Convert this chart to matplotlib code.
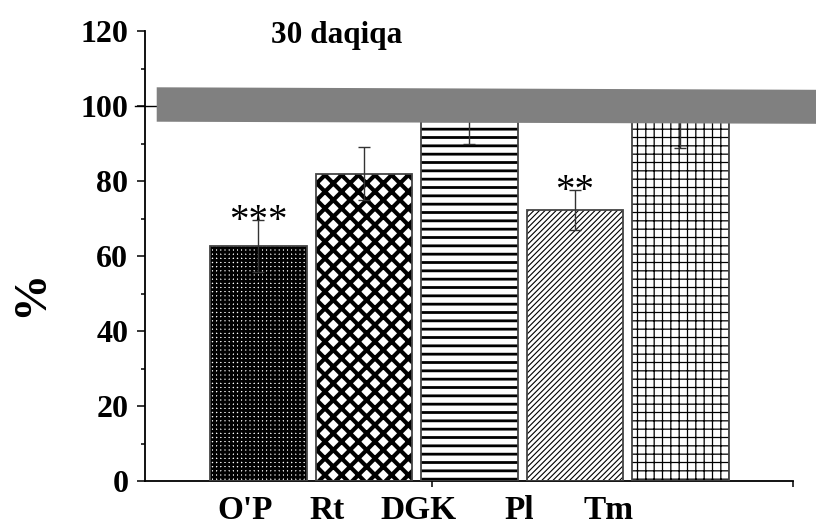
import matplotlib
matplotlib.use("Agg")
import matplotlib.pyplot as plt
from matplotlib.patches import Polygon
import numpy as np

# ---- data ----
categories = ["O'P", "Rt", "DGK", "Pl", "Tm"]
values = [62.7, 82.0, 96.0, 72.3, 96.0]
errors = [7.0, 7.0, 6.0, 5.4, 7.3]
stars = ["***", "", "", "**", ""]
hatches = ["++++", "xx", "--", "//////", "++"]
hatch_lws = [2.0, 3.0, 2.0, 0.8, 0.9]
label_pos = [-0.126, 0.651, 1.514, 2.471, 3.324]
yticks = [0, 20, 40, 60, 80, 100, 120]
title = "30 daqiqa"
ylabel = "%"

serif = ["Liberation Serif", "DejaVu Serif"]
plt.rcParams["font.family"] = serif

fig = plt.figure(figsize=(8.16, 5.21), dpi=100)
ax = fig.add_axes([145/816, 40/521, (793-145)/816, 450/521])

x = np.arange(len(categories))
width = 0.915
for i in range(len(categories)):
    with plt.rc_context({"hatch.linewidth": hatch_lws[i]}):
        b = ax.bar(x[i], values[i], width, color="white", edgecolor="black",
                   hatch=hatches[i], linewidth=0, zorder=2)
    for p in b:
        try:
            p.set_hatch_linewidth(hatch_lws[i])
        except Exception:
            pass
ax.bar(x, values, width, fill=False, edgecolor="#444444", linewidth=1.3, zorder=3)
ax.errorbar(x, values, yerr=errors, fmt="none", ecolor="#333333",
            elinewidth=1.0, capsize=4.5, capthick=1.0, zorder=4)
for i, s in enumerate(stars):
    if s:
        ax.annotate(s, xy=(x[i], values[i] + errors[i]), xytext=(0, -8),
                    textcoords="offset points", ha="center", va="baseline",
                    fontsize=28, zorder=5)

xlim = (-1.074, 5.068)
ax.set_xlim(*xlim)
ax.set_ylim(0, 120)

# reference line at 100
ax.plot([-1.17, 5.3], [100, 100], color="black", lw=1.0, clip_on=False, zorder=1)

# grey band
band = Polygon([(-0.963, 104.99), (5.286, 104.32), (5.286, 95.25), (-0.963, 95.81)],
               closed=True, facecolor="#808080", edgecolor="none",
               transform=ax.transData, clip_on=False, zorder=10)
ax.add_patch(band)

ax.spines["top"].set_visible(False)
ax.spines["right"].set_visible(False)
for s in ["left", "bottom"]:
    ax.spines[s].set_linewidth(1.3)

ax.set_yticks(yticks)
ax.set_yticks(np.arange(10, 120, 20), minor=True)
ax.tick_params(axis="y", which="major", direction="out", length=6, width=1.1,
               pad=6, labelsize=23)
ax.tick_params(axis="y", which="minor", direction="out", length=3, width=1.1)
for t in ax.get_yticklabels():
    t.set_fontweight("bold")

ax.set_xticks(label_pos)
ax.set_xticklabels(categories, fontsize=24, fontweight="bold")
ax.tick_params(axis="x", which="major", length=0, pad=10)
ax.set_xticks([1.646, xlim[1]], minor=True)
ax.tick_params(axis="x", which="minor", direction="out", length=4, width=1.1)

fig.text(336.5/816, 1 - 35/521, title, ha="center", va="center",
         fontsize=22.5, fontweight="bold")
fig.text(31/816, 1 - 293/521, ylabel, ha="center", va="center", rotation=90,
         fontsize=34, fontweight="bold")

fig.savefig("out.png", dpi=100)
